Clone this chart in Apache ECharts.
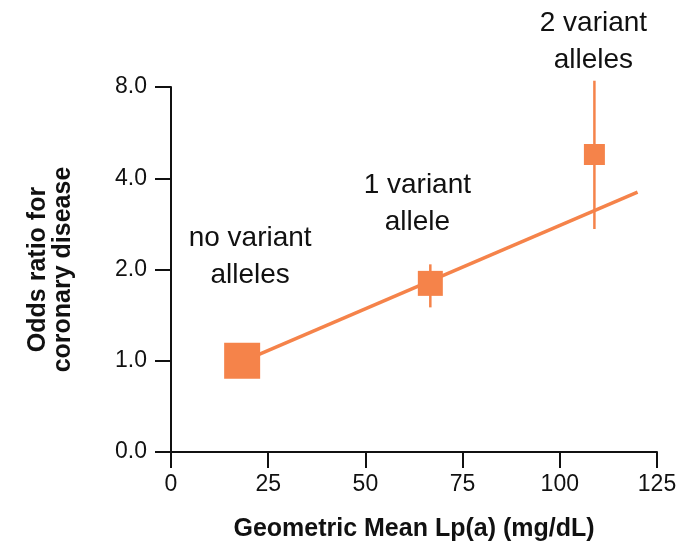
<!DOCTYPE html>
<html>
<head>
<meta charset="utf-8">
<script src="https://cdn.jsdelivr.net/npm/echarts@6/dist/echarts.min.js"></script>
<style>
  html, body { margin: 0; padding: 0; background: #fff; }
  #chart { width: 690px; height: 547px; }
</style>
</head>
<body>
<div id="chart"></div>
<script>
// groups (variant alleles)
var groupLabels = ["no variant\nalleles", "1 variant\nallele", "2 variant\nalleles"];
var meanLpa = [18.3, 66.7, 108.9];        // geometric mean Lp(a), mg/dL
var oddsRatio = [1.0, 1.80, 4.79];
var ciLow = [null, 1.50, 2.72];
var ciHigh = [null, 2.08, 8.39];
var markerSizes = [36, 25, 21];
// fitted trend line end points
var trendX = [18, 120];
var trendY = [0.99, 3.60];
var xTicks = [0, 25, 50, 75, 100, 125];
var yTicks = [0.5, 1, 2, 4, 8];

var orange = "#F5834A";
var font = "Liberation Sans";
var labelOffsets = [[8, -104], [-13, -80], [-1, -113]];

var myChart = echarts.init(document.getElementById("chart"));

var points = meanLpa.map(function (x, i) {
  return {
    value: [x, oddsRatio[i]],
    symbolSize: markerSizes[i],
    label: {
      show: true,
      position: "inside",
      offset: labelOffsets[i],
      formatter: groupLabels[i],
      color: "#111",
      fontFamily: font,
      fontSize: 28,
      lineHeight: 37,
      align: "center"
    }
  };
});

var bars = [];
meanLpa.forEach(function (x, i) {
  if (ciLow[i] != null) bars.push([x, ciLow[i], ciHigh[i]]);
});

var option = {
  backgroundColor: "#fff",
  animation: false,
  grid: { left: 171, right: 33, top: 87, bottom: 95 },
  xAxis: {
    type: "value",
    min: xTicks[0],
    max: xTicks[xTicks.length - 1],
    interval: 25,
    name: "Geometric Mean Lp(a) (mg/dL)",
    nameLocation: "middle",
    nameGap: 65,
    nameTextStyle: { fontFamily: font, fontSize: 25, fontWeight: "bold", color: "#111" },
    axisLine: { lineStyle: { color: "#111", width: 2 } },
    axisTick: { length: 16, lineStyle: { color: "#111", width: 2 } },
    axisLabel: { margin: 21, fontFamily: font, fontSize: 23, color: "#111" },
    splitLine: { show: false }
  },
  yAxis: {
    type: "log",
    logBase: 2,
    min: yTicks[0],
    max: yTicks[yTicks.length - 1],
    name: "Odds ratio for\ncoronary disease",
    nameLocation: "middle",
    nameGap: 95,
    nameTextStyle: { fontFamily: font, fontSize: 25, fontWeight: "bold", color: "#111", lineHeight: 25 },
    axisLine: { show: true, lineStyle: { color: "#111", width: 2 } },
    axisTick: { show: true, length: 16, lineStyle: { color: "#111", width: 2 } },
    axisLabel: {
      margin: 24,
      fontFamily: font,
      fontSize: 23,
      color: "#111",
      formatter: function (v) { return v < 1 ? "0.0" : v.toFixed(1); }
    },
    splitLine: { show: false },
    minorTick: { show: false }
  },
  series: [
    {
      type: "line",
      data: trendX.map(function (x, i) { return [x, trendY[i]]; }),
      symbol: "none",
      lineStyle: { color: orange, width: 3.5 },
      z: 2
    },
    {
      type: "custom",
      clip: false,
      data: bars,
      renderItem: function (params, api) {
        var top = api.coord([api.value(0), api.value(2)]);
        var bot = api.coord([api.value(0), api.value(1)]);
        return {
          type: "line",
          shape: { x1: top[0], y1: top[1], x2: bot[0], y2: bot[1] },
          style: { stroke: orange, lineWidth: 2.5 }
        };
      },
      z: 3
    },
    {
      type: "scatter",
      symbol: "rect",
      data: points,
      itemStyle: { color: orange, opacity: 1 },
      z: 4
    }
  ]
};
myChart.setOption(option);
</script>
</body>
</html>
